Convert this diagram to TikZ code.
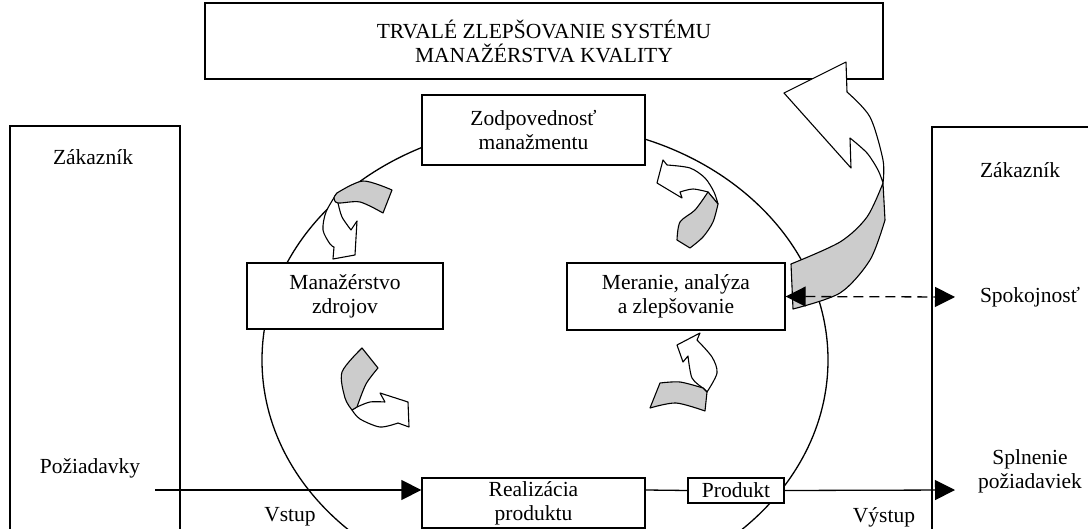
\documentclass[tikz,border=0pt]{standalone}
\usepackage{fontspec}
\setmainfont{Liberation Serif}
\usepackage{tikz}
\usetikzlibrary{arrows.meta, positioning}
\definecolor{stuhasiva}{RGB}{204,204,204}

\begin{document}
\begin{tikzpicture}[x=1pt, y=-1pt,
    font=\fontsize{21.5}{24}\selectfont,
    ciara/.style={line width=1.3pt},
    blok/.style={rectangle, draw, ciara, fill=white, align=center, inner sep=0pt},
    stuha/.style={draw, line width=1.1pt, fill=stuhasiva, line join=round},
    sipka/.style={draw, line width=1.1pt, fill=white, line join=round},
    hrot/.style={-{Triangle[length=20pt, width=20pt]}},
  ]
  \useasboundingbox (0,0) rectangle (1088,529);

  % zakaznik vlavo a vpravo, elipsa
  \draw[ciara] (10,535) -- (10,126) -- (180,126) -- (180,535);
  \draw[ciara] (932,535) -- (932,127) -- (1095,127);
  \draw[ciara] (545,360) ellipse [x radius=283pt, y radius=236pt];

  \coordinate (zaciatok) at (155,490);
  \coordinate (koniec) at (955,490);
  \coordinate (spokojkoniec) at (955,297);

  % bloky
  \node[blok, minimum width=678pt, minimum height=76pt] (zlepsovanie) at (544,41)
    {TRVALÉ ZLEPŠOVANIE SYSTÉMU\\MANAŽÉRSTVA KVALITY};
  \node[blok, minimum width=223pt, minimum height=70pt] (zodpovednost) at (533.5,130)
    {Zodpovednosť\\manažmentu};
  \node[blok, minimum width=196pt, minimum height=66pt] (zdroje) at (345,296)
    {Manažérstvo\\zdrojov};
  \node[blok, minimum width=218pt, minimum height=67pt] (meranie) at (676,296.5)
    {Meranie, analýza\\a zlepšovanie};
  \node[blok, minimum width=223pt, minimum height=50pt] (realizacia) at (533.5,503)
    {Realizácia\\produktu};
  \node[blok, minimum width=96pt, minimum height=25pt] (produkt) at (736,490.5) {Produkt};

  % texty
  \node (zakaznikL) at (93,157) {Zákazník};
  \node (zakaznikR) at (1020,170) {Zákazník};
  \node (poziadavky) at (90,468) {Požiadavky};
  \node (vstup) at (290,517) {Vstup};
  \node (vystup) at (884,517) {Výstup};
  \node[align=center] (splnenie) at (1030,471) {Splnenie\\požiadaviek};
  \node (spokojnost) at (1030,297) {Spokojnosť};

  % tok produktu
  \draw[ciara, hrot] (zaciatok) -- (zaciatok -| realizacia.west);
  \draw[ciara] (realizacia.east |- zaciatok) -- (produkt.west);
  \draw[ciara, hrot] (produkt.east) -- (koniec);

  % sipka k zdrojom
  \draw[sipka] plot[smooth] coordinates {(337,193) (326,212) (323,230) (330,244) (334,247)}
    -- (333,259) -- (355,255) -- (357,221) -- (351,230)
    -- plot[smooth] coordinates {(351,230) (342,217) (338,203)} -- cycle;
  \draw[stuha] plot[smooth] coordinates {(337,193) (363,181) (392,190)} -- (383,213)
    -- plot[smooth] coordinates {(383,213) (360,202) (338,203) (334,198) (337,193)} -- cycle;

  % sipka k realizacii
  \draw[sipka] plot[smooth] coordinates {(352,410) (360,419) (380,427) (398,423)}
    -- (409,427) -- (408,402) -- (380,393) -- (385,402)
    -- plot[smooth] coordinates {(385,402) (370,402) (357,407)} -- cycle;
  \draw[stuha] (362,348) -- (378,368) -- plot[smooth] coordinates {(378,368) (366,384) (357,407)}
    -- (352,410) -- plot[smooth] coordinates {(352,410) (345,398) (342,372) (362,348)} -- cycle;

  % sipka k zodpovednosti
  \draw[sipka] plot[smooth] coordinates {(667,165) (690,168) (705,178) (714,192) (718,204)}
    -- (708,192) -- plot[smooth] coordinates {(708,192) (693,189) (680,192)}
    -- (682,198) -- (657,183) -- (663,160) -- cycle;
  \draw[stuha] (708,192) -- (718,204) -- plot[smooth] coordinates {(718,204) (713,222) (703,237) (690,248)}
    -- (677,240) -- plot[smooth] coordinates {(677,240) (680,222) (695,210) (708,192)} -- cycle;

  % sipka k meraniu
  \draw[sipka] plot[smooth] coordinates {(697,340) (712,357) (717,373) (707,392)}
    -- (703,388) -- plot[smooth] coordinates {(703,388) (692,378) (688,356)}
    -- (683,362) -- (677,345) -- (700,333) -- cycle;
  \draw[stuha] plot[smooth] coordinates {(660,383) (680,382) (703,388)} -- (707,392) -- (705,411)
    -- plot[smooth] coordinates {(705,411) (676,403) (650,408)} -- cycle;

  % velka sipka k zlepsovaniu
  \draw[stuha] plot[smooth] coordinates {(791,264) (840,242) (867,217) (883,183)} -- (885,220)
    -- plot[smooth] coordinates {(885,220) (870,260) (840,293) (793,309)} -- cycle;
  \draw[sipka] plot[smooth] coordinates {(883,183) (883,160) (870,117) (847,92)}
    -- (846,62) -- (784,93) -- (851,168) -- (850,138)
    -- plot[smooth] coordinates {(850,138) (867,153) (878,170) (883,183)} -- cycle;

  % spokojnost
  \draw[ciara, dash pattern=on 10pt off 6pt,
    {Triangle[length=20pt, width=20pt]}-{Triangle[length=20pt, width=20pt]}]
    (meranie.east) -- (spokojkoniec);
\end{tikzpicture}
\end{document}
